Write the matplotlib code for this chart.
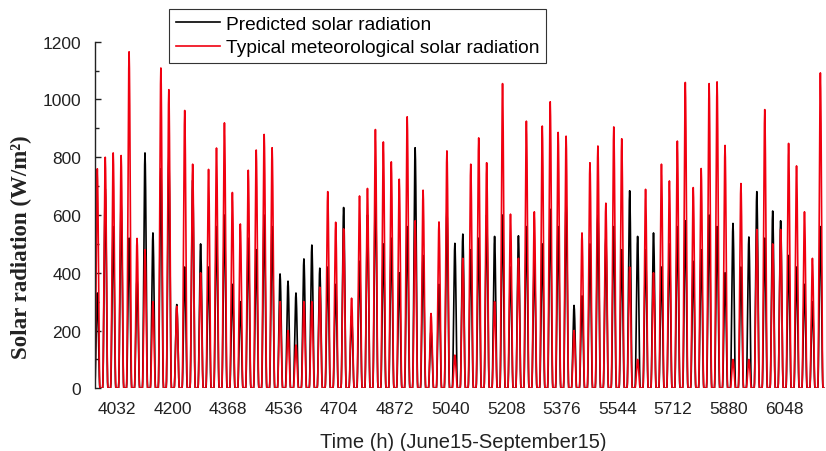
'''
Predicted vs typical meteorological solar radiation, June 15 - September 15
'''

import numpy as np
from matplotlib import pyplot as plt
from matplotlib.ticker import MultipleLocator

# daily peak values (W/m2), one per day from June 15
typical_peak = [760, 800, 815, 806, 1165, 519, 480, 300, 1109, 1034,
                284, 962, 776, 400, 758, 832, 919, 678, 569, 755,
                825, 879, 833, 300, 200, 150, 300, 300, 350, 681,
                575, 552, 312, 666, 692, 896, 853, 784, 724, 940,
                580, 686, 259, 576, 822, 115, 450, 776, 867, 781,
                300, 1055, 603, 450, 925, 611, 908, 992, 886, 873,
                200, 538, 781, 839, 641, 905, 864, 420, 100, 689,
                400, 776, 718, 856, 1059, 695, 761, 1055, 1061, 841,
                100, 709, 100, 550, 965, 500, 550, 848, 770, 611,
                450, 1092]
predicted_peak = [330, 690, 560, 640, 520, 380, 815, 538, 760, 800,
                  290, 420, 720, 500, 420, 560, 600, 360, 300, 520,
                  480, 600, 560, 396, 371, 330, 448, 496, 416, 420,
                  360, 626, 250, 440, 600, 700, 500, 520, 400, 560,
                  833, 460, 200, 360, 620, 502, 534, 480, 520, 600,
                  526, 600, 420, 528, 560, 450, 500, 620, 560, 640,
                  287, 320, 500, 600, 520, 560, 480, 684, 526, 480,
                  538, 420, 500, 560, 580, 440, 480, 600, 560, 400,
                  571, 420, 524, 681, 520, 614, 580, 460, 420, 360,
                  300, 560]

# fraction of the daily peak for each hour of the day
day_shape = [0, 0, 0, 0, 0, 0.03, 0.13, 0.3, 0.5, 0.68, 0.84, 0.95,
             1.0, 0.95, 0.84, 0.68, 0.5, 0.3, 0.13, 0.03, 0, 0, 0, 0]

first_hour = 3961
x_ticks = [4032, 4200, 4368, 4536, 4704, 4872, 5040, 5208, 5376, 5544, 5712, 5880, 6048]


def hourly(peaks):
    return np.concatenate([p * np.array(day_shape) for p in peaks])


def main():
    typical = hourly(typical_peak)
    predicted = hourly(predicted_peak)
    hours = first_hour + np.arange(len(typical))

    fig = plt.figure(figsize=(8.26, 4.52), dpi=100)
    ax = fig.add_axes([0.115, 0.1387, 0.885, 0.7668])

    ax.plot(hours, predicted, color='black', lw=1.2, label='Predicted solar radiation')
    ax.plot(hours, typical, color='#f00010', lw=1.2,
            label='Typical meteorological solar radiation')

    ax.set_xlim(3966, 6174)
    ax.set_ylim(0, 1200)
    ax.set_xticks(x_ticks)
    ax.yaxis.set_major_locator(MultipleLocator(200))
    ax.yaxis.set_minor_locator(MultipleLocator(100))

    for s in ['top', 'right', 'bottom']:
        ax.spines[s].set_visible(False)
    ax.spines['left'].set_linewidth(1.0)
    ax.spines['left'].set_color('#222222')

    ax.tick_params(axis='y', which='major', direction='in', length=4, width=1,
                   pad=10, labelsize=12.5, colors='#222222')
    ax.tick_params(axis='y', which='minor', direction='in', length=3, width=1,
                   colors='#222222')
    ax.tick_params(axis='x', length=0, pad=9, labelsize=12.5, colors='#222222')
    for lab in ax.get_xticklabels() + ax.get_yticklabels():
        lab.set_family('Liberation Sans')

    fig.text(0.0254, 0.4535, 'Solar radiation (W/m²)', rotation=90,
             ha='center', va='center', family='Liberation Serif',
             weight='bold', size=16.5, color='#222222')
    fig.text(0.5605, 0.0085, 'Time (h) (June15-September15)', ha='center',
             va='baseline', family='Liberation Sans', size=14.5, color='#222222')

    leg = fig.legend(loc='upper left', bbox_to_anchor=(0.2046, 0.978),
                     frameon=True, fancybox=False, borderaxespad=0,
                     prop={'family': 'Liberation Sans', 'size': 13.8},
                     handlelength=2.3, handletextpad=0.3, borderpad=0.35,
                     labelspacing=0.3)
    leg.get_frame().set_edgecolor('#333333')
    leg.get_frame().set_linewidth(0.8)
    leg.get_frame().set_alpha(1)

    fig.savefig('out.png', dpi=100)


if __name__ == "__main__":
    main()
